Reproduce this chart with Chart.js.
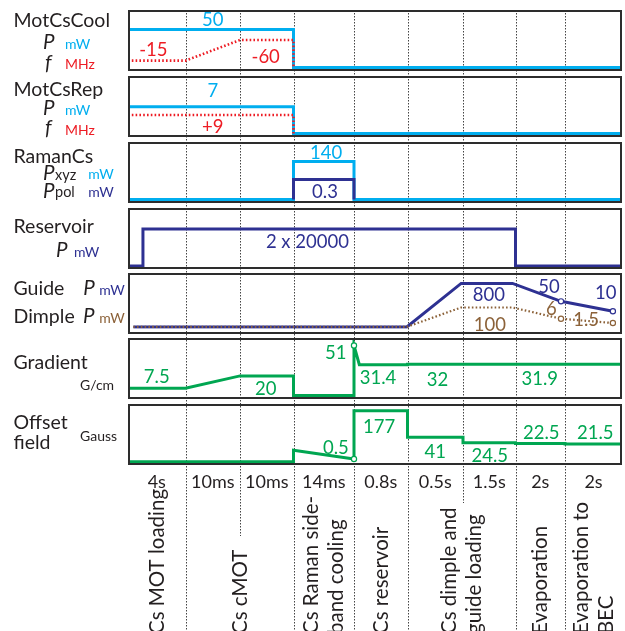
<!DOCTYPE html>
<html>
<head>
<meta charset="utf-8">
<script src="https://cdn.jsdelivr.net/npm/chart.js@4.4.1/dist/chart.umd.min.js"></script>
<style>
  html, body { margin: 0; padding: 0; background: #fff; }
  #wrap { position: relative; width: 625px; height: 631px; overflow: hidden; }
  #wrap canvas { position: absolute; }
</style>
</head>
<body>
<div id="wrap">
  <canvas id="bg" width="625" height="631" style="left:0;top:0"></canvas>
</div>
<script>
// ---------------- experimental sequence ----------------
// Time is given in "phase units": value k is the start of phase k+1.
const PHASE_DURATIONS = ['4s', '10ms', '10ms', '14ms', '0.8s', '0.5s', '1.5s', '2s', '2s'];
const PHASE_NAMES = [
  { span: [0, 1], lines: ['Cs MOT loading'] },
  { span: [1, 3], lines: ['Cs cMOT'] },
  { span: [3, 4], lines: ['Cs Raman side-', 'band cooling'] },
  { span: [4, 5], lines: ['Cs reservoir'] },
  { span: [5, 7], lines: ['Cs dimple and', 'guide loading'] },
  { span: [7, 8], lines: ['Evaporation'] },
  { span: [8, 9], lines: ['Evaporation to', 'BEC'] }
];

// MOT cooling laser: power (mW) and detuning (MHz)
const COOL_P_T = [0, 3, 3, 9];
const COOL_P   = [50, 50, 0, 0];
const COOL_F_T = [0, 1, 2, 3, 3];
const COOL_F   = [-15, -15, -60, -60, 0];

// MOT repumper: power (mW) and detuning (MHz)
const REP_P_T = [0, 3, 3, 9];
const REP_P   = [7, 7, 0, 0];
const REP_F_T = [0, 3, 3];
const REP_F   = [9, 9, 0];

// Raman lattice (xyz) and polarizer beam (mW)
const RAMAN_XYZ_T = [0, 3, 3, 4, 4, 9];
const RAMAN_XYZ   = [0, 0, 140, 140, 0, 0];
const RAMAN_POL_T = [3, 3, 4, 4];
const RAMAN_POL   = [0, 0.3, 0.3, 0];

// Reservoir trap, power per beam (mW)
const RESERVOIR_T = [0, 0.26, 0.26, 7, 7, 9];
const RESERVOIR   = [0, 0, 20000, 20000, 0, 0];

// Guide and dimple beams (mW)
const GUIDE_T  = [0, 5, 6, 7, 8, 8.93];
const GUIDE    = [0, 0, 800, 800, 50, 10];
const DIMPLE_T = [0, 5, 6, 7, 8, 8.93];
const DIMPLE   = [0, 0, 100, 100, 6, 1.5];

// Magnetic field gradient (G/cm)
const GRAD_T = [0, 1, 2, 3, 3, 4, 4, 4.1, 5, 5, 7, 7, 9];
const GRAD   = [7.5, 7.5, 20, 20, 0, 0, 51, 31.4, 31.4, 32, 32, 31.9, 31.9];

// Offset field (G)
const OFFSET_T = [0, 3, 3, 4, 4, 5, 5, 6, 6, 7, 7, 8, 8, 9];
const OFFSET   = [0, 0, 9, 0.5, 177, 177, 41, 41, 24.5, 24.5, 22.5, 22.5, 21.5, 21.5];

// ---------------- look ----------------
const CYAN = '#00aeef', RED = '#ed1c24', NAVY = '#2e3192', BROWN = '#8c6239',
      GREEN = '#00a651', INK = '#231f20', FRAME = '#2d2d2d', SEP = '#444';
const FONT = 'Lato, "Open Sans", sans-serif';
// relative drawing width of each phase column
const PHASE_WEIGHTS = [57.5, 54.5, 53.5, 60.5, 53.5, 55.5, 52.5, 49.5, 57];

// ---------------- custom axis mappings ----------------
function registerMappedScale(id, fwd, inv) {
  class Mapped extends Chart.LinearScale {
    getPixelForValue(v) {
      const a = fwd(this.min), b = fwd(this.max);
      return this.getPixelForDecimal((fwd(v) - a) / (b - a));
    }
    getValueForPixel(px) {
      const a = fwd(this.min), b = fwd(this.max);
      return inv(a + this.getDecimalForPixel(px) * (b - a));
    }
  }
  Mapped.id = id;
  Mapped.defaults = Chart.LinearScale.defaults;
  Chart.register(Mapped);
}
const CUM = [0];
PHASE_WEIGHTS.forEach(w => CUM.push(CUM[CUM.length - 1] + w));
registerMappedScale('phase',
  v => { const k = Math.min(8, Math.max(0, Math.floor(v))); return CUM[k] + (v - k) * PHASE_WEIGHTS[k]; },
  u => { let k = 0; while (k < 8 && u > CUM[k + 1]) k++; return k + (u - CUM[k]) / PHASE_WEIGHTS[k]; });
registerMappedScale('log1p', v => Math.log10(1 + v), u => Math.pow(10, u) - 1);
registerMappedScale('sqrt', v => Math.sign(v) * Math.sqrt(Math.abs(v)), u => Math.sign(u) * u * u);

// ---------------- panels ----------------
const PANEL_TOPS = [10, 76, 142, 208, 273, 338, 404];
const PANEL_H = 61, PANEL_LEFT = 128, PANEL_W = 494;

const PANELS = [
  { series: [
      { t: COOL_P_T, v: COOL_P, color: CYAN, range: [-4.6, 75.7], order: 1 },
      { t: COOL_F_T, v: COOL_F, color: RED, range: [-125.5, 7.6], reverse: true, dash: [1.6, 2.2], width: 2.6, order: 0 }
    ],
    labels: [
      { ds: 0, i: 0, at: 1.5, dy: -10 },
      { ds: 1, i: 0, at: 0.44, dy: -11.6 },
      { ds: 1, i: 2, at: 2.48, dy: 16.3 }
    ] },
  { series: [
      { t: REP_P_T, v: REP_P, color: CYAN, range: [-0.91, 15.0], order: 1 },
      { t: REP_F_T, v: REP_F, color: RED, range: [-1.70, 27.97], dash: [1.6, 2.2], width: 2.6, order: 0 }
    ],
    labels: [
      { ds: 0, i: 0, at: 1.5, dy: -16.4 },
      { ds: 1, i: 0, at: 1.5, dy: 11.3, pre: '+' }
    ] },
  { series: [
      { t: RAMAN_XYZ_T, v: RAMAN_XYZ, color: CYAN, range: [-12.9, 211.8], order: 1 },
      { t: RAMAN_POL_T, v: RAMAN_POL, color: NAVY, range: [-0.0525, 0.8625], order: 0 }
    ],
    labels: [
      { ds: 0, i: 2, at: 3.54, dy: -8.7 },
      { ds: 1, i: 1, at: 3.52, dy: 11.7 }
    ] },
  { series: [
      { t: RESERVOIR_T, v: RESERVOIR, color: NAVY, range: [-1622, 31351] }
    ],
    labels: [
      { ds: 0, i: 2, at: 3.23, dy: 12.7, pre: '2 x ' }
    ] },
  { series: [
      { t: GUIDE_T, v: GUIDE, color: NAVY, scale: 'log1p', range: [-0.254, 1790], marks: [4, 5], order: 1 },
      { t: DIMPLE_T, v: DIMPLE, color: BROWN, scale: 'log1p', range: [-0.365, 106900], marks: [4, 5], dash: [1.6, 2.2], width: 2.2, order: 0 }
    ],
    labels: [
      { ds: 0, i: 2, at: 6.54, dy: 11 },
      { ds: 0, i: 4, at: 7.75, dy: -14.8 },
      { ds: 0, i: 5, at: 8.8, dy: -19.3 },
      { ds: 1, i: 2, at: 6.56, dy: 16.7 },
      { ds: 1, i: 4, at: 7.8, dy: -10.5 },
      { ds: 1, i: 5, at: 8.45, dy: -3.7 }
    ] },
  { series: [
      { t: GRAD_T, v: GRAD, color: GREEN, range: [-3.57, 58.65], marks: [6] }
    ],
    labels: [
      { ds: 0, i: 0, at: 0.5, dy: -11.5 },
      { ds: 0, i: 2, at: 2.48, dy: 12.8 },
      { ds: 0, i: 6, at: 3.7, dy: 6.8 },
      { ds: 0, i: 7, at: 4.45, dy: 12.4 },
      { ds: 0, i: 9, at: 5.54, dy: 15.2 },
      { ds: 0, i: 11, at: 7.49, dy: 13.7 }
    ] },
  { series: [
      { t: OFFSET_T, v: OFFSET, color: GREEN, scale: 'sqrt', range: [-0.741, 226.6], marks: [3] }
    ],
    labels: [
      { ds: 0, i: 3, at: 3.7, dy: -12 },
      { ds: 0, i: 4, at: 4.47, dy: 16 },
      { ds: 0, i: 6, at: 5.5, dy: 14 },
      { ds: 0, i: 8, at: 6.51, dy: 12.4 },
      { ds: 0, i: 10, at: 7.52, dy: -11 },
      { ds: 0, i: 12, at: 8.53, dy: -12 }
    ] }
];

const VALUE_SIZE = 18.5;

const panelPlugin = {
  id: 'panelDecor',
  afterDatasetsDraw(chart) {
    const p = chart.config.options.plugins.panelDecor.panel;
    const ctx = chart.ctx;
    ctx.save();
    ctx.font = VALUE_SIZE + 'px ' + FONT;
    ctx.textAlign = 'center';
    ctx.textBaseline = 'alphabetic';
    p.labels.forEach(l => {
      const s = p.series[l.ds];
      const value = s.v[l.i];
      const x = chart.scales.x.getPixelForValue(l.at);
      const y = chart.scales['y' + l.ds].getPixelForValue(value) + l.dy;
      ctx.fillStyle = s.color;
      ctx.fillText((l.pre || '') + String(value), x, y + VALUE_SIZE * 0.36);
    });
    ctx.strokeStyle = FRAME;
    ctx.lineWidth = 2;
    ctx.setLineDash([]);
    ctx.strokeRect(1, 1, chart.width - 2, chart.height - 2);
    ctx.restore();
  }
};

const wrap = document.getElementById('wrap');
PANELS.forEach((p, n) => {
  const c = document.createElement('canvas');
  c.width = PANEL_W; c.height = PANEL_H;
  c.style.left = PANEL_LEFT + 'px';
  c.style.top = PANEL_TOPS[n] + 'px';
  wrap.appendChild(c);
  const scales = { x: { type: 'phase', min: 0, max: 9, display: false } };
  p.series.forEach((s, k) => {
    scales['y' + k] = { type: s.scale || 'linear', min: s.range[0], max: s.range[1],
                        reverse: !!s.reverse, display: false };
  });
  new Chart(c, {
    type: 'line',
    data: {
      datasets: p.series.map((s, k) => ({
        data: s.t.map((x, i) => ({ x, y: s.v[i] })),
        yAxisID: 'y' + k,
        borderColor: s.color,
        borderWidth: s.width || 3,
        borderDash: s.dash || [],
        borderJoinStyle: 'miter',
        borderCapStyle: 'butt',
        order: s.order || 0,
        tension: 0,
        fill: false,
        pointRadius: ctx => (s.marks || []).includes(ctx.dataIndex) ? 2.6 : 0,
        pointBackgroundColor: '#fff',
        pointBorderColor: s.color,
        pointBorderWidth: 1.2
      }))
    },
    options: {
      responsive: false, animation: false, devicePixelRatio: 1, events: [],
      layout: { padding: 0 },
      scales,
      plugins: { legend: { display: false }, tooltip: { enabled: false }, panelDecor: { panel: p } }
    },
    plugins: [panelPlugin]
  });
});

// ---------------- side labels, separators and phase captions ----------------
const SIDE_LABELS = [
  ['MotCsCool', 13.5, 26.7, 'big'], ['P', 43, 49.3, 'it'], ['mW', 65, 49, 'unit', CYAN],
  ['f', 45, 69.5, 'it'], ['MHz', 65, 69.3, 'unit', RED],
  ['MotCsRep', 13.5, 96, 'big'], ['P', 43, 115, 'it'], ['mW', 65, 115, 'unit', CYAN],
  ['f', 45, 135, 'it'], ['MHz', 65, 134.5, 'unit', RED],
  ['RamanCs', 13.5, 162.7, 'big'], ['P', 43, 180, 'it'], ['xyz', 55, 180, 'sub'], ['mW', 88.3, 179.3, 'unit', CYAN],
  ['P', 43, 198.3, 'it'], ['pol', 55, 196.5, 'sub'], ['mW', 88.3, 196.7, 'unit', NAVY],
  ['Reservoir', 13.5, 233.3, 'big'], ['P', 56, 256.7, 'it'], ['mW', 74, 256.7, 'unit', NAVY],
  ['Guide', 13.5, 295, 'big'], ['P', 83.3, 295, 'it'], ['mW', 99.3, 295, 'unit', NAVY],
  ['Dimple', 13.5, 322.7, 'big'], ['P', 83, 322.7, 'it'], ['mW', 99.3, 322.7, 'unit', BROWN],
  ['Gradient', 13.5, 369.3, 'big'], ['G/cm', 80, 390, 'unit', INK],
  ['Offset', 13.5, 429, 'big'], ['field', 13.5, 449.3, 'big'], ['Gauss', 80, 441, 'unit', INK]
];
const LABEL_FONTS = {
  big: '19.5px ' + FONT, it: 'italic 20.5px ' + FONT, unit: '14px ' + FONT, sub: '14.5px ' + FONT
};
const SHORT_SEPARATORS = { 2: 536, 6: 503 };
const NAME_SIZE = 20.5, NAME_GAP = 25, NAME_START = 634;

const framePlugin = {
  id: 'sequenceFrame',
  afterDraw(chart) {
    const ctx = chart.ctx, xs = chart.scales.x;
    ctx.save();
    // dotted phase boundaries
    ctx.strokeStyle = SEP;
    ctx.lineWidth = 1;
    ctx.setLineDash([1.5, 1.5]);
    for (let k = 1; k < 9; k++) {
      const x = Math.round(xs.getPixelForValue(k)) + 0.5;
      ctx.beginPath();
      ctx.moveTo(x, 10);
      ctx.lineTo(x, SHORT_SEPARATORS[k] || chart.height);
      ctx.stroke();
    }
    ctx.setLineDash([]);
    // channel names and units
    ctx.textAlign = 'left';
    ctx.textBaseline = 'alphabetic';
    SIDE_LABELS.forEach(([t, x, y, kind, color]) => {
      ctx.font = LABEL_FONTS[kind];
      ctx.fillStyle = color || INK;
      ctx.fillText(t, x, y);
    });
    // phase durations
    ctx.font = '18px ' + FONT;
    ctx.fillStyle = INK;
    ctx.textAlign = 'center';
    PHASE_DURATIONS.forEach((d, k) => ctx.fillText(d, xs.getPixelForValue(k + 0.5), 488));
    // phase names, written upwards
    ctx.font = NAME_SIZE + 'px ' + FONT;
    ctx.textAlign = 'left';
    PHASE_NAMES.forEach(ph => {
      const cx = (xs.getPixelForValue(ph.span[0]) + xs.getPixelForValue(ph.span[1])) / 2;
      const n = ph.lines.length;
      ph.lines.forEach((line, j) => {
        const x = cx + (j - (n - 1) / 2) * NAME_GAP;
        ctx.save();
        ctx.translate(x, NAME_START);
        ctx.rotate(-Math.PI / 2);
        ctx.fillText(line, 0, NAME_SIZE * 0.35);
        ctx.restore();
      });
    });
    ctx.restore();
  }
};

new Chart(document.getElementById('bg'), {
  type: 'line',
  data: { datasets: [] },
  options: {
    responsive: false, animation: false, devicePixelRatio: 1, events: [],
    layout: { padding: { left: PANEL_LEFT, right: 625 - PANEL_LEFT - PANEL_W, top: 0, bottom: 0 } },
    scales: {
      x: { type: 'phase', min: 0, max: 9, display: false },
      y: { type: 'linear', min: 0, max: 1, display: false }
    },
    plugins: { legend: { display: false }, tooltip: { enabled: false } }
  },
  plugins: [framePlugin]
});
</script>
</body>
</html>
